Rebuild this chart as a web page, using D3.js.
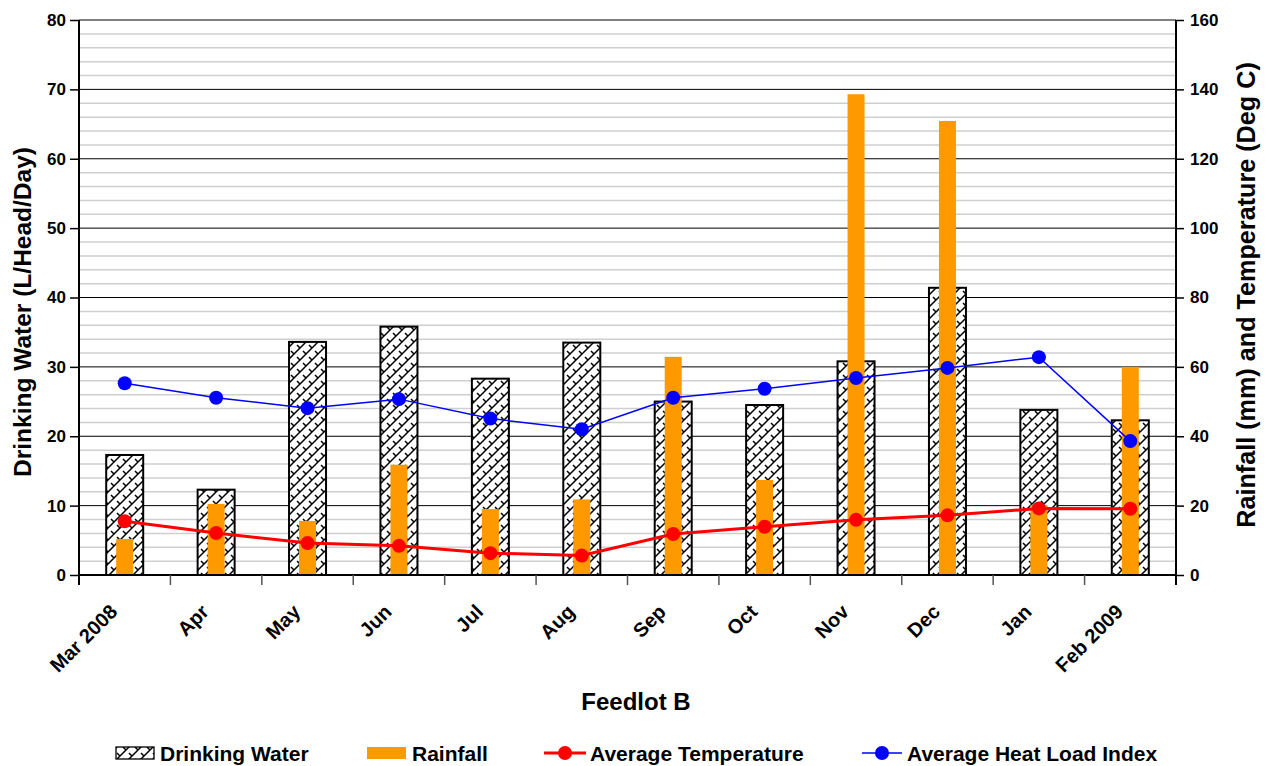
<!DOCTYPE html>
<html><head><meta charset="utf-8">
<script src="https://cdn.jsdelivr.net/npm/d3@7"></script>
<style>body{margin:0;background:#fff;} text{font-family:Arial,"Liberation Sans",sans-serif;font-weight:bold;}</style>
</head><body>
<svg id="c" width="1269" height="766"></svg>
<script>
const categories = ["Mar 2008","Apr","May","Jun","Jul","Aug","Sep","Oct","Nov","Dec","Jan","Feb 2009"];
const drinkingWater = [17.3,12.3,33.6,35.8,28.3,33.5,25.0,24.5,30.8,41.4,23.8,22.3];
const rainfall = [10.4,20.5,15.6,31.8,19.0,21.8,62.9,27.4,138.6,130.9,20.2,60.0];
const avgTemp = [15.5,12.1,9.2,8.4,6.3,5.6,11.8,13.9,15.9,17.2,19.2,19.1];
const heatLoad = [55.3,51.1,48.1,50.7,45.1,42.0,51.1,53.7,56.8,59.7,62.8,38.6];
const leftTicks = [0,10,20,30,40,50,60,70,80];
const rightTicks = [0,20,40,60,80,100,120,140,160];
const legendLabels = ["Drinking Water","Rainfall","Average Temperature","Average Heat Load Index"];

const svg = d3.select("#c");
const L = 79, R = 1176, T = 20, B = 575;
const x = d3.scaleBand().domain(categories).range([L, R]);
const yL = d3.scaleLinear().domain([0,80]).range([B, T]);
const yR = d3.scaleLinear().domain([0,160]).range([B, T]);

// hatch pattern
const defs = svg.append("defs");
const pat = defs.append("pattern").attr("id","hatch").attr("patternUnits","userSpaceOnUse")
  .attr("width",12).attr("height",12);
pat.append("rect").attr("width",12).attr("height",12).attr("fill","#fff");
pat.append("path").attr("d","M0,12 L12,0 M-6,6 L6,-6 M6,18 L18,6").attr("stroke","#000").attr("stroke-width",1.5);
pat.append("path").attr("d","M3,3 L6,6 M9,9 L12,12 M-3,-3 L0,0").attr("stroke","#000").attr("stroke-width",1.5);

// minor grid
const minor = d3.range(0,81,2).filter(v => v % 10 !== 0);
svg.append("g").selectAll("line").data(minor).join("line")
  .attr("x1",L).attr("x2",R).attr("y1",d=>yL(d)).attr("y2",d=>yL(d))
  .attr("stroke","#cfcfcf").attr("stroke-width",1.5);
// major grid
svg.append("g").selectAll("line").data(leftTicks.filter(v=>v>0)).join("line")
  .attr("x1",L).attr("x2",R).attr("y1",d=>yL(d)).attr("y2",d=>yL(d))
  .attr("stroke",d=>d===80?"#808080":"#000").attr("stroke-width",d=>d===80?2:1);

// drinking water bars
const bwW = 37, rfW = 17;
svg.append("g").selectAll("rect").data(drinkingWater).join("rect")
  .attr("x",(d,i)=>x(categories[i])+x.bandwidth()/2-bwW/2)
  .attr("y",d=>yL(d)).attr("width",bwW).attr("height",d=>B-yL(d))
  .attr("fill","url(#hatch)").attr("stroke","#000").attr("stroke-width",2);
// rainfall bars
svg.append("g").selectAll("rect").data(rainfall).join("rect")
  .attr("x",(d,i)=>x(categories[i])+x.bandwidth()/2-rfW/2)
  .attr("y",d=>yR(d)).attr("width",rfW).attr("height",d=>B-yR(d))
  .attr("fill","#ff9900");

const cx = (d,i)=>x(categories[i])+x.bandwidth()/2;
// temperature line
svg.append("path").datum(avgTemp)
  .attr("d",d3.line().x(cx).y(d=>yR(d)))
  .attr("fill","none").attr("stroke","#ff0000").attr("stroke-width",3);
svg.append("g").selectAll("circle").data(avgTemp).join("circle")
  .attr("cx",cx).attr("cy",d=>yR(d)).attr("r",7).attr("fill","#ff0000");
// HLI line
svg.append("path").datum(heatLoad)
  .attr("d",d3.line().x(cx).y(d=>yR(d)))
  .attr("fill","none").attr("stroke","#0000ff").attr("stroke-width",1.5);
svg.append("g").selectAll("circle").data(heatLoad).join("circle")
  .attr("cx",cx).attr("cy",d=>yR(d)).attr("r",7).attr("fill","#0000ff");

// axes
const axL = svg.append("g").attr("transform",`translate(${L},0)`)
  .call(d3.axisLeft(yL).tickValues(leftTicks).tickSize(9).tickPadding(4));
const axR = svg.append("g").attr("transform",`translate(${R},0)`)
  .call(d3.axisRight(yR).tickValues(rightTicks).tickSize(8).tickPadding(6));
[axL,axR].forEach(a=>{
  a.select(".domain").attr("stroke","#000").attr("stroke-width",2);
  a.selectAll(".tick line").attr("stroke","#000").attr("stroke-width",1.5);
  a.selectAll(".tick text").attr("font-size",17).attr("font-weight","bold").attr("fill","#000")
    .attr("font-family","Arial, Liberation Sans, sans-serif");
});
axL.select(".domain").attr("d",`M0,${B+10}V${T}`);
axR.select(".domain").attr("d",`M0,${B+10}V${T}`);

// x axis
svg.append("line").attr("x1",L).attr("x2",R).attr("y1",B).attr("y2",B).attr("stroke","#000").attr("stroke-width",2);
const bounds = categories.map((c,i)=>x(c)).concat([R]);
svg.append("g").selectAll("line").data(bounds.slice(1,-1)).join("line")
  .attr("x1",d=>d).attr("x2",d=>d).attr("y1",B).attr("y2",B+10).attr("stroke","#555").attr("stroke-width",1.5);
svg.append("g").selectAll("text").data(categories).join("text")
  .attr("transform",(d)=>`translate(${x(d)+x.bandwidth()/2-6},${B+38}) rotate(-45)`)
  .attr("text-anchor","end").attr("font-size",20).text(d=>d);

// titles
svg.append("text").attr("x",636).attr("y",710).attr("text-anchor","middle").attr("font-size",24).text("Feedlot B");
svg.append("text").attr("transform",`translate(31,312) rotate(-90)`).attr("text-anchor","middle").attr("font-size",24.5).text("Drinking Water (L/Head/Day)");
svg.append("text").attr("transform",`translate(1255,295) rotate(-90)`).attr("text-anchor","middle").attr("font-size",25.2).text("Rainfall (mm) and Temperature (Deg C)");

// legend
const ly = 753;
const lg = svg.append("g");
lg.append("rect").attr("x",116).attr("y",ly-6).attr("width",38).attr("height",12).attr("fill","url(#hatch)").attr("stroke","#000").attr("stroke-width",1.3);
lg.append("rect").attr("x",367).attr("y",ly-6).attr("width",39).attr("height",12).attr("fill","#ff9900");
lg.append("line").attr("x1",544).attr("x2",586).attr("y1",ly).attr("y2",ly).attr("stroke","#ff0000").attr("stroke-width",3);
lg.append("circle").attr("cx",565).attr("cy",ly).attr("r",7).attr("fill","#ff0000");
lg.append("line").attr("x1",862).attr("x2",902).attr("y1",ly).attr("y2",ly).attr("stroke","#0000ff").attr("stroke-width",1.5);
lg.append("circle").attr("cx",882).attr("cy",ly).attr("r",7).attr("fill","#0000ff");
const lx = [160,412,590,907];
lg.selectAll("text").data(legendLabels).join("text")
  .attr("x",(d,i)=>lx[i]).attr("y",ly).attr("dy","0.36em").attr("font-size",21).text(d=>d);
</script>
</body></html>
